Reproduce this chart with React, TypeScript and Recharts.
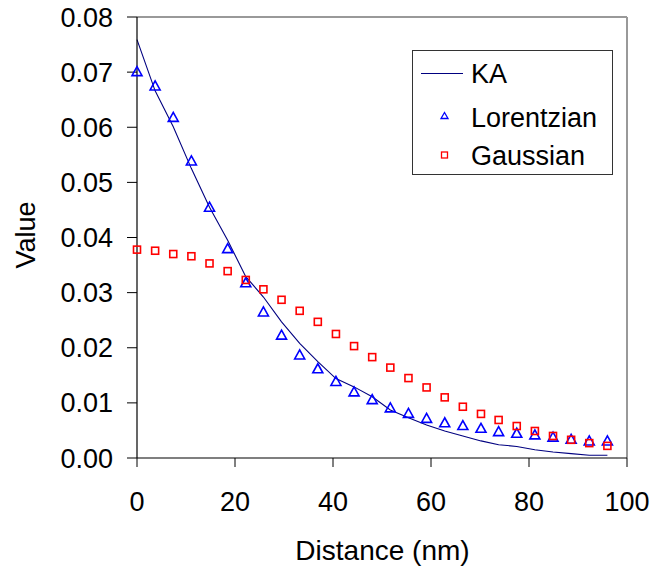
import React from 'react';
import { ComposedChart, Line, Scatter, XAxis, YAxis, ReferenceLine, Legend } from 'recharts';

const distances = [0, 3.7, 7.4, 11.1, 14.8, 18.5, 22.2, 25.8, 29.5, 33.2, 36.9, 40.6, 44.3, 48.0, 51.7, 55.4, 59.1, 62.8, 66.5, 70.2, 73.8, 77.5, 81.2, 84.9, 88.6, 92.3, 96.0];
const kaValues = [0.0759, 0.0666, 0.0601, 0.0525, 0.0455, 0.0395, 0.0329, 0.0292, 0.0247, 0.0208, 0.0175, 0.0144, 0.0129, 0.0111, 0.0087, 0.0073, 0.0060, 0.0049, 0.0040, 0.0031, 0.0024, 0.0021, 0.0015, 0.0011, 0.0008, 0.0005, 0.0005];
const lorentzianValues = [0.0700, 0.0674, 0.0617, 0.0538, 0.0454, 0.0379, 0.0317, 0.0264, 0.0222, 0.0186, 0.0161, 0.0138, 0.0119, 0.0105, 0.0090, 0.0080, 0.0071, 0.0063, 0.0058, 0.0053, 0.0047, 0.0044, 0.0041, 0.0037, 0.0033, 0.0030, 0.0030];
const gaussianValues = [0.0378, 0.0376, 0.0370, 0.0366, 0.0353, 0.0339, 0.0323, 0.0306, 0.0287, 0.0267, 0.0247, 0.0225, 0.0203, 0.0183, 0.0164, 0.0145, 0.0128, 0.0110, 0.0093, 0.0080, 0.0069, 0.0058, 0.0049, 0.0040, 0.0033, 0.0027, 0.0022];

const xTicks = [0, 20, 40, 60, 80, 100];
const yTicks = [0, 0.01, 0.02, 0.03, 0.04, 0.05, 0.06, 0.07, 0.08];
const seriesNames = ['KA', 'Lorentzian', 'Gaussian'];

const data = distances.map((d, i) => ({
  x: d,
  ka: kaValues[i],
  lor: lorentzianValues[i],
  gau: gaussianValues[i],
}));

const FONT = 'Liberation Sans, Arial, sans-serif';

const Triangle = (props: any) => {
  const { cx, cy } = props;
  if (cx == null || cy == null) return null;
  return (
    <polygon
      points={`${cx},${cy - 5.5} ${cx - 5},${cy + 3.5} ${cx + 5},${cy + 3.5}`}
      fill="none"
      stroke="#0000ff"
      strokeWidth={1.6}
    />
  );
};

const Square = (props: any) => {
  const { cx, cy } = props;
  if (cx == null || cy == null) return null;
  return <rect x={cx - 3.5} y={cy - 3.5} width={7} height={7} fill="none" stroke="#ff0000" strokeWidth={1.6} />;
};

const LegendBox = () => (
  <svg width={202} height={126} style={{ display: 'block' }}>
    <rect x={0.5} y={0.5} width={200} height={124} fill="#fff" stroke="#333" strokeWidth={1} />
    <line x1={9} x2={51} y1={23.5} y2={23.5} stroke="#000080" strokeWidth={1} />
    <text x={59} y={33} fontSize={27} fontFamily={FONT} fill="#000">{seriesNames[0]}</text>
    <polygon points="32.5,62.5 29,68.5 36,68.5" fill="none" stroke="#0000ff" strokeWidth={1.3} />
    <text x={59} y={76.5} fontSize={27} fontFamily={FONT} fill="#000">{seriesNames[1]}</text>
    <rect x={29.5} y={102} width={6} height={6} fill="none" stroke="#ff0000" strokeWidth={1.3} />
    <text x={59} y={115.3} fontSize={27} fontFamily={FONT} fill="#000">{seriesNames[2]}</text>
  </svg>
);

export default function App() {
  return (
    <div style={{ position: 'absolute', left: 0, top: 0, background: '#fff' }}>
      <ComposedChart
        width={652}
        height={571}
        data={data}
        margin={{ top: 17, right: 25, left: 0, bottom: 0 }}
      >
        <ReferenceLine y={0.08} stroke="#999" strokeWidth={2} ifOverflow="visible" />
        <ReferenceLine x={100} stroke="#999" strokeWidth={2} ifOverflow="visible" />
        <XAxis
          dataKey="x"
          type="number"
          domain={[0, 100]}
          ticks={xTicks}
          height={113}
          tickSize={9}
          tickMargin={25}
          stroke="#000"
          tick={{ fill: '#000', fontSize: 27, fontFamily: FONT }}
          tickLine={{ stroke: '#000' }}
          axisLine={{ stroke: '#000', strokeWidth: 1.2 }}
          label={{
            content: () => (
              <text x={382.5} y={560.3} textAnchor="middle" fontSize={28} fontFamily={FONT} fill="#000">
                Distance (nm)
              </text>
            ),
          }}
        />
        <YAxis
          type="number"
          domain={[0, 0.08]}
          ticks={yTicks}
          width={137}
          tickSize={10}
          tickMargin={14}
          interval={0}
          stroke="#000"
          tickFormatter={(v: number) => v.toFixed(2)}
          tick={{ fill: '#000', fontSize: 27, fontFamily: FONT }}
          tickLine={{ stroke: '#000' }}
          axisLine={{ stroke: '#000', strokeWidth: 1.2 }}
          label={{
            content: () => (
              <text
                x={34.7}
                y={235}
                textAnchor="middle"
                fontSize={27}
                fontFamily={FONT}
                fill="#000"
                transform="rotate(-90, 34.7, 235)"
              >
                Value
              </text>
            ),
          }}
        />
        <Line
          dataKey="ka"
          type="linear"
          stroke="#000080"
          strokeWidth={1.1}
          dot={false}
          activeDot={false}
          isAnimationActive={false}
          name={seriesNames[0]}
        />
        <Scatter dataKey="lor" shape={<Triangle />} isAnimationActive={false} name={seriesNames[1]} />
        <Scatter dataKey="gau" shape={<Square />} isAnimationActive={false} name={seriesNames[2]} />
        <Legend
          layout="vertical"
          align="center"
          verticalAlign="middle"
          wrapperStyle={{ position: 'absolute', left: 412, top: 50, width: 202, height: 126 }}
          content={() => <LegendBox />}
        />
      </ComposedChart>
    </div>
  );
}
